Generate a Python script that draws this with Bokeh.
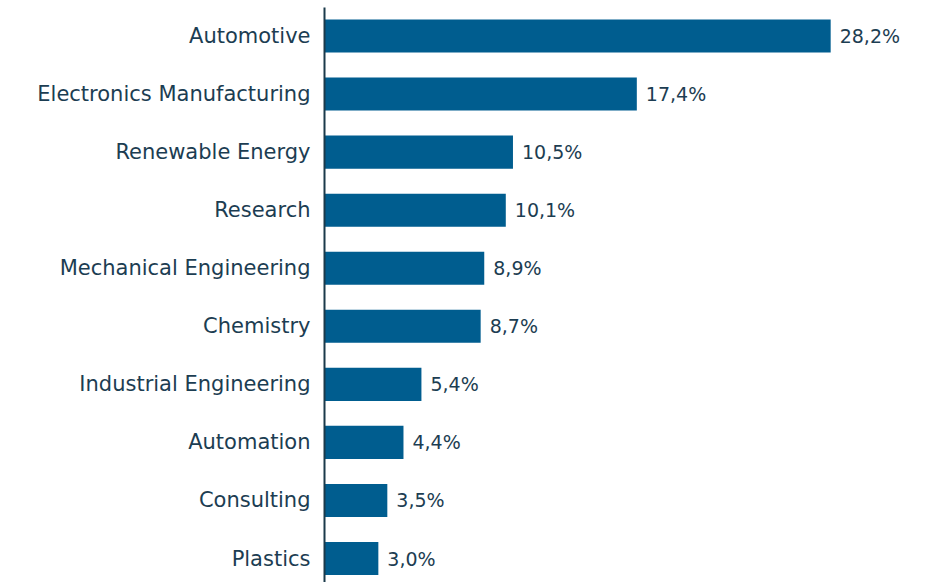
from bokeh.plotting import figure
from bokeh.models import ColumnDataSource, Range1d, FixedTicker
from bokeh.core.properties import value
from bokeh.embed import file_html
from bokeh.resources import INLINE

categories = ["Automotive", "Electronics Manufacturing", "Renewable Energy", "Research",
              "Mechanical Engineering", "Chemistry", "Industrial Engineering", "Automation",
              "Consulting", "Plastics"]
shares = [28.2, 17.4, 10.5, 10.1, 8.9, 8.7, 5.4, 4.4, 3.5, 3.0]

BAR = "#005d8f"
TEXT = "#1c3d52"
FONT = "DejaVu Sans"

idx = list(range(len(categories)))
labels = [f"{v:.1f}".replace(".", ",") + "%" for v in shares]
src = ColumnDataSource(dict(y=idx, v=shares, lab=labels))

p = figure(width=928, height=582, output_backend="svg", toolbar_location=None,
           x_range=Range1d(0, 33.65), y_range=Range1d(9.413, -0.491),
           min_border_left=324, min_border_right=0, min_border_top=7, min_border_bottom=0)
p.outline_line_color = None
p.grid.visible = False
p.xaxis.visible = False
p.background_fill_color = "white"

p.hbar(y="y", left=0, right="v", height=0.57, source=src, color=BAR, line_color=None)
p.text(x="v", y="y", text="lab", source=src, x_offset=9, text_baseline="middle",
       text_align="left", text_font=value(FONT), text_font_size="19px", text_color=TEXT)

ya = p.yaxis[0]
ya.ticker = FixedTicker(ticks=idx)
ya.major_label_overrides = {i: c for i, c in zip(idx, categories)}
ya.major_tick_line_color = None
ya.minor_tick_line_color = None
ya.major_tick_out = 0
ya.major_tick_in = 0
ya.axis_line_width = 2
ya.axis_line_color = "#1b3a4b"
ya.major_label_standoff = 14
ya.major_label_text_font = FONT
ya.major_label_text_font_size = "21px"
ya.major_label_text_color = TEXT

open("out.html", "w").write(file_html(p, INLINE))
